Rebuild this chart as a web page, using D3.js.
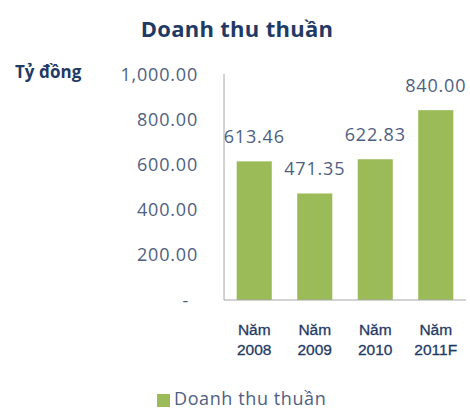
<!DOCTYPE html>
<html>
<head>
<meta charset="utf-8">
<script src="https://cdn.jsdelivr.net/npm/d3@7"></script>
<style>
  body { margin: 0; background: #fff; }
  svg { display: block; }
</style>
</head>
<body>
<div class="chart"></div>
<script>
// chart data
const years = ["2008", "2009", "2010", "2011F"];
const revenue = [613.46, 471.35, 622.83, 840.00];
const yTicks = [0, 200, 400, 600, 800, 1000];

const W = 470, H = 410;
const svg = d3.select(".chart").append("svg")
    .attr("width", W)
    .attr("height", H);

// plot area
const x0 = 224, x1 = 466, yTop = 74, yBottom = 300;

const xScale = d3.scaleBand()
    .domain(years)
    .range([x0, x1])
    .paddingInner(0.42)
    .paddingOuter(0.21);

const yScale = d3.scaleLinear()
    .domain([0, 1000])
    .range([yBottom, yTop]);

const fmt = d3.format(",.2f");
const labelColor = "#4f5f7f";
const navy = "#1f3a64";

// title
svg.append("text")
    .attr("x", 237)
    .attr("y", 37)
    .attr("text-anchor", "middle")
    .attr("font-family", "Open Sans, sans-serif")
    .attr("font-weight", "bold")
    .attr("font-size", 22)
    .attr("letter-spacing", 0.3)
    .attr("fill", navy)
    .text("Doanh thu thuần");

// unit label
svg.append("text")
    .attr("x", 15)
    .attr("y", 78)
    .attr("font-family", "Open Sans, sans-serif")
    .attr("font-weight", "bold")
    .attr("font-size", 17)
    .attr("fill", navy)
    .text("Tỷ đồng");

// y axis labels (zero shown as an accounting dash, set further left)
svg.append("g")
    .selectAll("text")
    .data(yTicks)
    .join("text")
    .attr("x", d => d === 0 ? 189 : 198)
    .attr("y", d => yScale(d) + 6.5)
    .attr("text-anchor", "end")
    .attr("font-family", "Open Sans, sans-serif")
    .attr("font-size", 18)
    .attr("letter-spacing", 0.8)
    .attr("fill", labelColor)
    .text(d => d === 0 ? "-" : fmt(d));

// bars
svg.append("g")
    .selectAll("rect")
    .data(revenue)
    .join("rect")
    .attr("x", (d, i) => xScale(years[i]))
    .attr("y", d => yScale(d))
    .attr("width", xScale.bandwidth())
    .attr("height", d => yBottom - yScale(d))
    .attr("fill", "#9bbb59");

// axis lines
svg.append("line")
    .attr("x1", x0).attr("x2", x0)
    .attr("y1", yTop).attr("y2", yBottom)
    .attr("stroke", "#a6a6a6");
svg.append("line")
    .attr("x1", x0).attr("x2", x1)
    .attr("y1", yBottom).attr("y2", yBottom)
    .attr("stroke", "#a6a6a6");

// data labels
svg.append("g")
    .selectAll("text")
    .data(revenue)
    .join("text")
    .attr("x", (d, i) => xScale(years[i]) + xScale.bandwidth() / 2)
    .attr("y", d => yScale(d) - 18)
    .attr("text-anchor", "middle")
    .attr("font-family", "Open Sans, sans-serif")
    .attr("font-size", 18)
    .attr("letter-spacing", 0.8)
    .attr("fill", labelColor)
    .text(d => fmt(d));

// category labels
const cat = svg.append("g")
    .selectAll("text")
    .data(years)
    .join("text")
    .attr("text-anchor", "middle")
    .attr("font-family", "Liberation Sans, Arial, sans-serif")
    .attr("font-size", 15.5)
    .attr("fill", navy)
    .attr("stroke", navy)
    .attr("stroke-width", 0.3);
cat.append("tspan")
    .attr("x", d => xScale(d) + xScale.bandwidth() / 2)
    .attr("y", 335)
    .text("Năm");
cat.append("tspan")
    .attr("x", d => xScale(d) + xScale.bandwidth() / 2)
    .attr("y", 355)
    .text(d => d);

// legend
svg.append("rect")
    .attr("x", 157)
    .attr("y", 394)
    .attr("width", 13)
    .attr("height", 13)
    .attr("fill", "#9bbb59");
svg.append("text")
    .attr("x", 174)
    .attr("y", 405)
    .attr("font-family", "Open Sans, sans-serif")
    .attr("font-size", 18)
    .attr("letter-spacing", 0.6)
    .attr("fill", labelColor)
    .text("Doanh thu thuần");
</script>
</body>
</html>
